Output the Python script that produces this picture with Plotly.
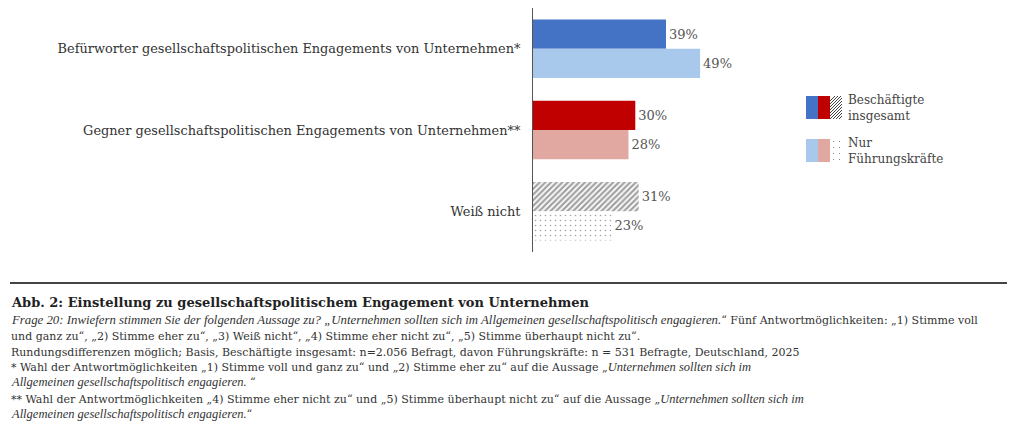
import plotly.graph_objects as go

categories = [
    "Befürworter gesellschaftspolitischen Engagements von Unternehmen*",
    "Gegner gesellschaftspolitischen Engagements von Unternehmen**",
    "Weiß nicht",
]
series_names = ["Beschäftigte insgesamt", "Nur Führungskräfte"]
total_values = [39, 30, 31]
leader_values = [49, 28, 23]

total_colors = ["#4472C4", "#C00000", "#FFFFFF"]
leader_colors = ["#A9C9EC", "#E0A8A0", "#FFFFFF"]
total_patterns = ["", "", "/"]
leader_patterns = ["", "", "."]

W, H = 1013, 433
L, R, T, B = 533, 874, 8, 252
FONT = "DejaVu Serif"
IT = "<span style=\"font-family:'Liberation Serif';font-size:{}px\"><i>{}</i></span>"


def px(x):
    return (x - L) / (R - L)


def py(y):
    return (B - y) / (B - T)


fig = go.Figure()
fig.add_trace(go.Bar(
    name=series_names[0], y=categories, x=total_values, orientation="h",
    marker=dict(color=total_colors, line=dict(width=0),
                pattern=dict(shape=total_patterns, fgcolor="#333333", size=4, solidity=0.55)),
    text=[f"{v}%" for v in total_values], textposition="outside",
    textfont=dict(family=FONT, size=13, color="#555555"), cliponaxis=False,
))
fig.add_trace(go.Bar(
    name=series_names[1], y=categories, x=leader_values, orientation="h",
    marker=dict(color=leader_colors, line=dict(width=0),
                pattern=dict(shape=leader_patterns, fgcolor="#555555", size=5, solidity=0.08)),
    text=[f"{v}%" for v in leader_values], textposition="outside",
    textfont=dict(family=FONT, size=13, color="#555555"), cliponaxis=False,
))

shapes = []
annotations = []

# horizontal rule above caption
shapes.append(dict(type="line", xref="paper", yref="paper", x0=px(10), x1=px(1007),
                   y0=py(283), y1=py(283), line=dict(color="#444444", width=2)))

# legend swatches
def rect(x0, y0, x1, y1, color):
    shapes.append(dict(type="rect", xref="paper", yref="paper", x0=px(x0), x1=px(x1),
                       y0=py(y1), y1=py(y0), fillcolor=color, line=dict(width=0)))

rect(806, 96, 818, 119, total_colors[0])
rect(818, 96, 830, 119, total_colors[1])
rect(806, 139, 818, 162, leader_colors[0])
rect(818, 139, 830, 162, leader_colors[1])
# hatch swatch
path = ""
for k in range(-6, 4):
    xa, ya = 830 + k * 3, 119
    xb, yb = xa + 23, 96
    if xa < 830:
        ya = 119 - (830 - xa)
        xa = 830
    if xb > 842:
        yb = 96 + (xb - 842)
        xb = 842
    if xa < xb:
        path += f"M{px(xa)},{py(ya)} L{px(xb)},{py(yb)} "
shapes.append(dict(type="path", xref="paper", yref="paper", path=path,
                   line=dict(color="#444444", width=1)))
# dots swatch
for dx in (833, 839):
    for dy in (141, 147, 153, 159):
        shapes.append(dict(type="rect", xref="paper", yref="paper",
                           x0=px(dx), x1=px(dx + 1), y0=py(dy + 1), y1=py(dy),
                           fillcolor="#888888", line=dict(width=0)))

legend_font = dict(family=FONT, size=12, color="#444444")
annotations.append(dict(x=px(846), y=py(108), xref="paper", yref="paper", xanchor="left",
                        yanchor="middle", align="left", showarrow=False,
                        text="Beschäftigte<br>insgesamt", font=legend_font))
annotations.append(dict(x=px(846), y=py(151), xref="paper", yref="paper", xanchor="left",
                        yanchor="middle", align="left", showarrow=False,
                        text="Nur<br>Führungskräfte", font=legend_font))

# caption
X0 = 9
annotations.append(dict(x=px(X0), y=py(302), xref="paper", yref="paper", xanchor="left",
                        yanchor="middle", showarrow=False,
                        text="<b>Abb. 2: Einstellung zu gesellschaftspolitischem Engagement von Unternehmen</b>",
                        font=dict(family=FONT, size=13, color="#222222")))
foot = [
    (320, IT.format(12.8, "Frage 20: Inwiefern stimmen Sie der folgenden Aussage zu? „Unternehmen sollten sich im Allgemeinen gesellschaftspolitisch engagieren.") + "“ Fünf Antwortmöglichkeiten: „1) Stimme voll"),
    (336, "und ganz zu“, „2) Stimme eher zu“, „3) Weiß nicht“, „4) Stimme eher nicht zu“, „5) Stimme überhaupt nicht zu“."),
    (352, "Rundungsdifferenzen möglich; Basis, Beschäftigte insgesamt: n=2.056 Befragt, davon Führungskräfte: n = 531 Befragte, Deutschland, 2025"),
    (367, "* Wahl der Antwortmöglichkeiten „1) Stimme voll und ganz zu“ und „2) Stimme eher zu“ auf die Aussage „" + IT.format(12.5, "Unternehmen sollten sich im")),
    (382, IT.format(12.5, "Allgemeinen gesellschaftspolitisch engagieren.") + " “"),
    (399, "** Wahl der Antwortmöglichkeiten „4) Stimme eher nicht zu“ und „5) Stimme überhaupt nicht zu“ auf die Aussage „" + IT.format(12.5, "Unternehmen sollten sich im")),
    (414, IT.format(12.5, "Allgemeinen gesellschaftspolitisch engagieren.") + "“"),
]
for yy, txt in foot:
    annotations.append(dict(x=px(X0), y=py(yy), xref="paper", yref="paper", xanchor="left",
                            yanchor="middle", showarrow=False, text=txt,
                            font=dict(family=FONT, size=11, color="#333333")))

fig.update_layout(
    width=W, height=H,
    margin=dict(l=L, r=W - R, t=T, b=H - B, pad=0),
    paper_bgcolor="white", plot_bgcolor="white",
    barmode="group", bargap=0.28, bargroupgap=0,
    showlegend=False,
    font=dict(family=FONT, color="#333333"),
    xaxis=dict(range=[0, 100], visible=False, fixedrange=True),
    yaxis=dict(autorange="reversed", showline=True, linecolor="#555555", linewidth=1,
               ticks="", showgrid=False, ticklabelstandoff=9,
               tickfont=dict(family=FONT, size=12.9, color="#333333"), fixedrange=True),
    shapes=shapes, annotations=annotations,
)

fig.write_html("out.html", config={"displayModeBar": False},
               post_script="document.body.style.margin='0';")
